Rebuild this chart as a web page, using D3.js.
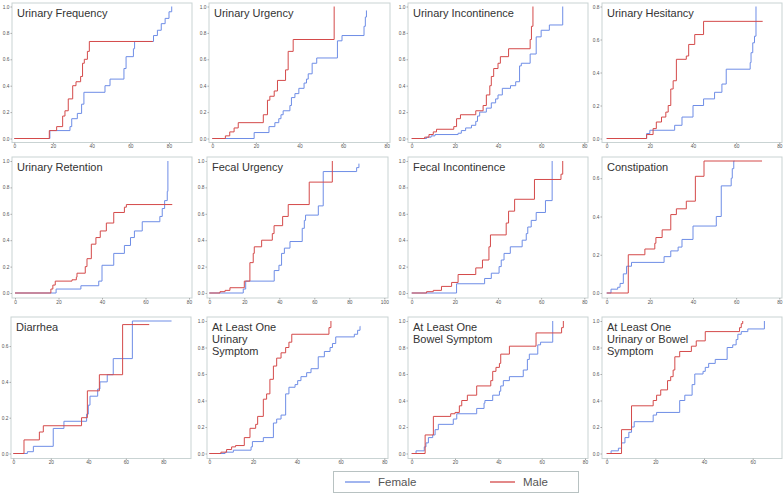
<!DOCTYPE html>
<html><head><meta charset="utf-8">
<script src="https://cdn.jsdelivr.net/npm/d3@7"></script>
<style>body{margin:0;background:#fff}svg{display:block}text{font-family:"Liberation Sans",Arial,sans-serif}</style>
</head><body><svg id="c" width="784" height="496"></svg>
<script>
// ---- data: [time, cumulative incidence] step points ----
const titles = [["Urinary Frequency"],["Urinary Urgency"],["Urinary Incontinence"],["Urinary Hesitancy"],
  ["Urinary Retention"],["Fecal Urgency"],["Fecal Incontinence"],["Constipation"],
  ["Diarrhea"],["At Least One","Urinary","Symptom"],["At Least One","Bowel Symptom"],["At Least One","Urinary or Bowel","Symptom"]];
const seriesNames = ["Female","Male"];

const freqFemale=[[0,0],[18.4,0.06],[28.8,0.09],[29.7,0.15],[32.6,0.19],[34.8,0.26],[36,0.35],[46.9,0.4],[49.5,0.45],[56.7,0.53],[57.8,0.62],[61.6,0.68],[62.2,0.735],[72,0.78],[74,0.82],[76,0.87],[78,0.91],[80,0.96],[81.4,1.0],[81.4,1.0]];
const freqMale=[[0,0],[18.1,0.06],[21.9,0.09],[25,0.17],[26.2,0.21],[27.9,0.3],[30.2,0.4],[31.9,0.43],[34.3,0.47],[35.3,0.57],[36.2,0.6],[37.8,0.66],[38.8,0.735],[71.6,0.735]];
const urgFemale=[[0,0],[19.2,0.045],[26,0.09],[28.7,0.12],[30.5,0.15],[31.5,0.18],[32.5,0.21],[35.6,0.25],[36.3,0.31],[37.9,0.34],[39.7,0.38],[42.1,0.42],[43.2,0.45],[44,0.49],[45.8,0.57],[47.9,0.61],[57.4,0.74],[59.5,0.78],[69.6,0.85],[70.2,0.92],[70.7,0.97],[70.7,0.97]];
const urgMale=[[0,0],[6,0.02],[8,0.05],[10,0.08],[11.9,0.12],[23.4,0.18],[25.3,0.29],[26.4,0.32],[28.4,0.36],[29.9,0.44],[33.6,0.52],[34.8,0.66],[37.1,0.75],[55.9,1.0],[55.9,1.0]];
const incFemale=[[0,0],[6.9,0.01],[9,0.02],[10.8,0.03],[21.5,0.04],[23,0.06],[25,0.08],[27.7,0.1],[29.7,0.13],[30.5,0.17],[31.5,0.2],[34.6,0.23],[36.9,0.27],[38.9,0.3],[40,0.33],[42,0.38],[45.8,0.4],[48.2,0.43],[50,0.55],[50.8,0.57],[54.9,0.64],[57.7,0.77],[60,0.82],[63.8,0.86],[70,1.0],[70,1.0]];
const incMale=[[0,0],[6,0.01],[8,0.03],[10,0.05],[11.5,0.07],[19.5,0.09],[20.8,0.15],[22.6,0.18],[29.7,0.21],[33.1,0.25],[34.6,0.33],[36.2,0.4],[36.9,0.47],[38,0.53],[40,0.57],[41.1,0.62],[44.9,0.68],[54.9,0.75],[55.5,0.85],[56.2,1.0],[56.2,1.0]];
const hesFemale=[[0,0],[18.5,0.03],[20,0.05],[31.5,0.08],[34.9,0.13],[40,0.2],[44.9,0.24],[50,0.28],[53.4,0.33],[55.4,0.42],[66.5,0.46],[66.9,0.52],[67.7,0.58],[68.5,0.62],[69.2,0.8],[69.2,0.8]];
const hesMale=[[0,0],[18.5,0.024],[21.5,0.06],[23,0.1],[25.4,0.13],[27.4,0.16],[28.5,0.2],[29.7,0.3],[30.8,0.35],[32.3,0.48],[36.9,0.5],[38,0.57],[40.8,0.63],[44.9,0.71],[72.3,0.71]];
const retFemale=[[0,0],[18.9,0.03],[30.3,0.055],[38.5,0.09],[40,0.21],[45.4,0.3],[50.3,0.36],[53.1,0.42],[54.9,0.47],[58.5,0.54],[66.6,0.58],[67.7,0.64],[68.8,0.7],[70,0.77],[70.3,1.0],[70.3,1.0]];
const retMale=[[0,0],[16.5,0.03],[17.4,0.06],[18.5,0.09],[26.2,0.1],[28.2,0.12],[28.5,0.15],[32.3,0.2],[33.1,0.26],[35.1,0.37],[37.2,0.42],[39.2,0.47],[42,0.53],[45.4,0.61],[50.3,0.65],[51.2,0.67],[72.3,0.67]];
const fuFemale=[[0,0],[19.4,0.03],[20.8,0.09],[37.1,0.17],[39.8,0.21],[41.3,0.3],[42.9,0.34],[46.1,0.39],[53.1,0.49],[54.3,0.55],[55,0.59],[62.3,0.66],[65.1,0.92],[84.2,0.95],[85.5,0.98],[85.5,0.98]];
const fuMale=[[0,0],[6.1,0.01],[9,0.02],[11.8,0.04],[20,0.09],[23.2,0.23],[25.1,0.3],[25.7,0.35],[29.9,0.4],[36,0.45],[37,0.51],[41.9,0.58],[45.1,0.67],[57.1,0.84],[70.3,1.0],[70.3,1.0]];
const fiFemale=[[0,0],[20.8,0.07],[33.8,0.11],[36.9,0.15],[40.5,0.2],[41.5,0.25],[42.8,0.3],[45.7,0.35],[51.2,0.4],[53.1,0.45],[53.8,0.5],[55.4,0.55],[57.7,0.61],[62,0.7],[65.1,1.0],[65.1,1.0]];
const fiMale=[[0,0],[6.9,0.01],[10,0.02],[13.8,0.05],[18.5,0.08],[21.5,0.14],[29.7,0.19],[32.8,0.25],[35.8,0.35],[36.5,0.44],[43.8,0.53],[44.9,0.62],[47.7,0.71],[56.9,0.86],[69.2,0.9],[70,1.0],[70,1.0]];
const conFemale=[[0,0],[2,0.02],[5.1,0.03],[6.2,0.05],[7.7,0.1],[9.2,0.14],[11.5,0.16],[26.6,0.19],[29.7,0.22],[33.1,0.24],[34.9,0.28],[40,0.35],[50.8,0.4],[53.1,0.56],[57.7,0.6],[58.2,0.65],[58.9,0.69],[59.2,0.69]];
const conMale=[[0,0],[10,0.2],[17.7,0.23],[22.3,0.26],[22.8,0.29],[25.7,0.33],[29.7,0.41],[32.3,0.44],[36.9,0.48],[41.1,0.61],[45.1,0.69],[72,0.69]];
const diaFemale=[[0,0],[7.5,0.01],[10.7,0.04],[21.3,0.14],[27,0.18],[39.1,0.22],[40,0.27],[40.9,0.32],[45,0.36],[46.2,0.4],[50.1,0.44],[53.3,0.53],[63.5,0.74],[84.4,0.74]];
const diaMale=[[0,0],[5.7,0.076],[13.9,0.12],[16,0.155],[36.4,0.2],[39.5,0.35],[45.9,0.44],[58.3,0.72],[72.5,0.72]];
const anyUFemale=[[0,0],[7.2,0.01],[11,0.025],[19.1,0.05],[19.7,0.09],[24.7,0.12],[29.3,0.23],[30.8,0.26],[32.8,0.29],[34.9,0.45],[36.4,0.5],[39.2,0.52],[40.4,0.55],[41.9,0.58],[44.5,0.61],[46.5,0.64],[49.8,0.73],[52.6,0.77],[55.2,0.8],[56.3,0.83],[57.8,0.88],[66.3,0.9],[67.8,0.93],[68.9,0.96],[69,0.96]];
const anyUMale=[[0,0],[5.3,0.01],[7.9,0.03],[10.2,0.05],[12,0.06],[16,0.12],[18.6,0.19],[21.2,0.22],[22.1,0.28],[24.7,0.41],[26.2,0.45],[27.7,0.56],[29.3,0.66],[30.8,0.72],[32.8,0.76],[34.9,0.8],[36.4,0.84],[37.7,0.9],[54.7,0.95],[55.6,1.0],[55.6,1.0]];
const anyBFemale=[[0,0],[2,0.02],[5.8,0.05],[6.6,0.08],[7.7,0.12],[9.7,0.14],[10.8,0.18],[12.3,0.22],[19.2,0.26],[20.8,0.3],[30,0.34],[33.4,0.38],[33.8,0.4],[37.4,0.44],[40.5,0.47],[41.1,0.51],[42.3,0.55],[45.1,0.58],[51.5,0.63],[53.4,0.71],[54.3,0.75],[58.2,0.82],[59.5,0.84],[65.1,1.0],[65.1,1.0]];
const anyBMale=[[0,0],[6.2,0.14],[10,0.28],[18,0.3],[20,0.31],[22,0.36],[23.1,0.4],[25.7,0.44],[30,0.51],[36.5,0.55],[37.4,0.62],[38.9,0.65],[40.5,0.68],[41.1,0.75],[45.1,0.81],[57.4,0.91],[69.2,0.95],[70,1.0],[70,1.0]];
const anyFemale=[[0,0],[1.8,0.02],[4.8,0.04],[6.1,0.08],[7.5,0.12],[9.1,0.16],[10.2,0.2],[11.3,0.24],[19.1,0.29],[20.5,0.31],[30,0.4],[32.1,0.44],[35.1,0.52],[36.2,0.6],[39.6,0.62],[40.5,0.65],[41.9,0.68],[44.6,0.71],[49.5,0.8],[51.8,0.82],[53.2,0.86],[53.9,0.9],[55.3,0.92],[58,0.94],[64.8,1.0],[64.8,1.0]];
const anyMale=[[0,0],[6.1,0.18],[10.2,0.36],[19.1,0.4],[20.5,0.44],[22.2,0.48],[25,0.55],[26.3,0.58],[27.3,0.63],[28,0.73],[30,0.77],[34.8,0.81],[36.8,0.85],[40.5,0.92],[54.6,0.95],[55.3,0.98],[55.9,1.0],[55.9,1.0]];

const femaleSeries=[freqFemale,urgFemale,incFemale,hesFemale,retFemale,fuFemale,fiFemale,conFemale,diaFemale,anyUFemale,anyBFemale,anyFemale];
const maleSeries=[freqMale,urgMale,incMale,hesMale,retMale,fuMale,fiMale,conMale,diaMale,anyUMale,anyBMale,anyMale];
const xTickSets=[[0,20,40,60,80],[0,20,40,60,80],[0,20,40,60,80],[0,20,40,60,80],[0,20,40,60,80],[0,20,40,60,80,100],[0,20,40,60,80],[0,20,40,60,80],[0,20,40,60,80],[0,20,40,60,80],[0,20,40,60,80],[0,20,40,60]];
const yMaxes=[1,1,1,0.8,1,1,1,0.69,0.74,1,1,1];
const yTickSets=[[0,.2,.4,.6,.8,1],[0,.2,.4,.6,.8,1],[0,.2,.4,.6,.8,1],[0,.2,.4,.6,.8],[0,.2,.4,.6,.8,1],[0,.2,.4,.6,.8,1],[0,.2,.4,.6,.8,1],[0,.2,.4,.6],[0,.2,.4,.6],[0,.2,.4,.6,.8,1],[0,.2,.4,.6,.8,1],[0,.2,.4,.6,.8,1]];

// ---- layout (pixels) ----
const frames=[ // frame left,right ; x pixel of 0 and of last tick
 {fl:12,fr:192,x0:14.3,x1:169},{fl:209,fr:390,x0:212.3,x1:386.7},{fl:408,fr:588,x0:411.7,x1:584.3},{fl:602,fr:782,x0:606.7,x1:779.3},
 {fl:12,fr:192,x0:15,x1:189},{fl:207,fr:388,x0:209.3,x1:384.3},{fl:408,fr:588,x0:411.7,x1:584.3},{fl:602,fr:782,x0:606.7,x1:779.3},
 {fl:11,fr:191,x0:13.3,x1:163.3},{fl:207,fr:388,x0:209.3,x1:384.3},{fl:408,fr:588,x0:411.7,x1:585},{fl:602,fr:782,x0:606.7,x1:752.7}];
const rows=[{ft:3,fb:142.5,y0:138.5,y1:6.5},{ft:157,fb:298,y0:293,y1:161},{ft:317,fb:458.5,y0:453.5,y1:321}];
const colors={Female:"#6e8de6",Male:"#d44a4a"};

const svg=d3.select("#c");
frames.forEach((f,i)=>{
  const r=rows[Math.floor(i/4)];
  const x=d3.scaleLinear().domain([0,d3.max(xTickSets[i])]).range([f.x0,f.x1]);
  const y=d3.scaleLinear().domain([0,yMaxes[i]]).range([r.y0,r.y1]);
  const g=svg.append("g");
  g.append("rect").attr("x",f.fl).attr("y",r.ft).attr("width",f.fr-f.fl).attr("height",r.fb-r.ft)
    .attr("fill","none").attr("stroke","#c9d3d3").attr("stroke-width",1);
  const ax=g.append("g").attr("transform",`translate(0,${r.fb})`)
    .call(d3.axisBottom(x).tickValues(xTickSets[i]).tickFormat(d3.format("d")).tickSize(1.5).tickPadding(1));
  const ay=g.append("g").attr("transform",`translate(${f.fl},0)`)
    .call(d3.axisLeft(y).tickValues(yTickSets[i]).tickFormat(d3.format(".1f")).tickSize(1.5).tickPadding(1));
  [ax,ay].forEach(a=>{a.select(".domain").remove();
    a.selectAll("line").attr("stroke","#aaa");
    a.selectAll("text").attr("font-size",4.8).attr("fill","#555").style("font-family","'Liberation Sans',Arial,sans-serif");});
  const line=d3.line().x(d=>x(d[0])).y(d=>y(d[1])).curve(d3.curveStepAfter);
  g.append("path").datum(femaleSeries[i]).attr("d",line).attr("fill","none").attr("stroke",colors.Female).attr("stroke-width",1);
  g.append("path").datum(maleSeries[i]).attr("d",line).attr("fill","none").attr("stroke",colors.Male).attr("stroke-width",1);
  titles[i].forEach((s,k)=>g.append("text").attr("x",f.fl+5).attr("y",r.ft+13.5+k*12).attr("font-size",11).attr("fill","#333").text(s));
});
// legend
const lg=svg.append("g");
lg.append("rect").attr("x",333.5).attr("y",471.5).attr("width",245).attr("height",21).attr("fill","#fff").attr("stroke","#b8c2c2");
const lx=d3.scaleOrdinal().domain(seriesNames).range([345,490]);
seriesNames.forEach(n=>{
  lg.append("line").attr("x1",lx(n)).attr("x2",lx(n)+25).attr("y1",482).attr("y2",482).attr("stroke",colors[n]).attr("stroke-width",1.3);
  lg.append("text").attr("x",lx(n)+33).attr("y",486).attr("font-size",11.5).attr("fill","#555").text(n);
});
</script></body></html>
